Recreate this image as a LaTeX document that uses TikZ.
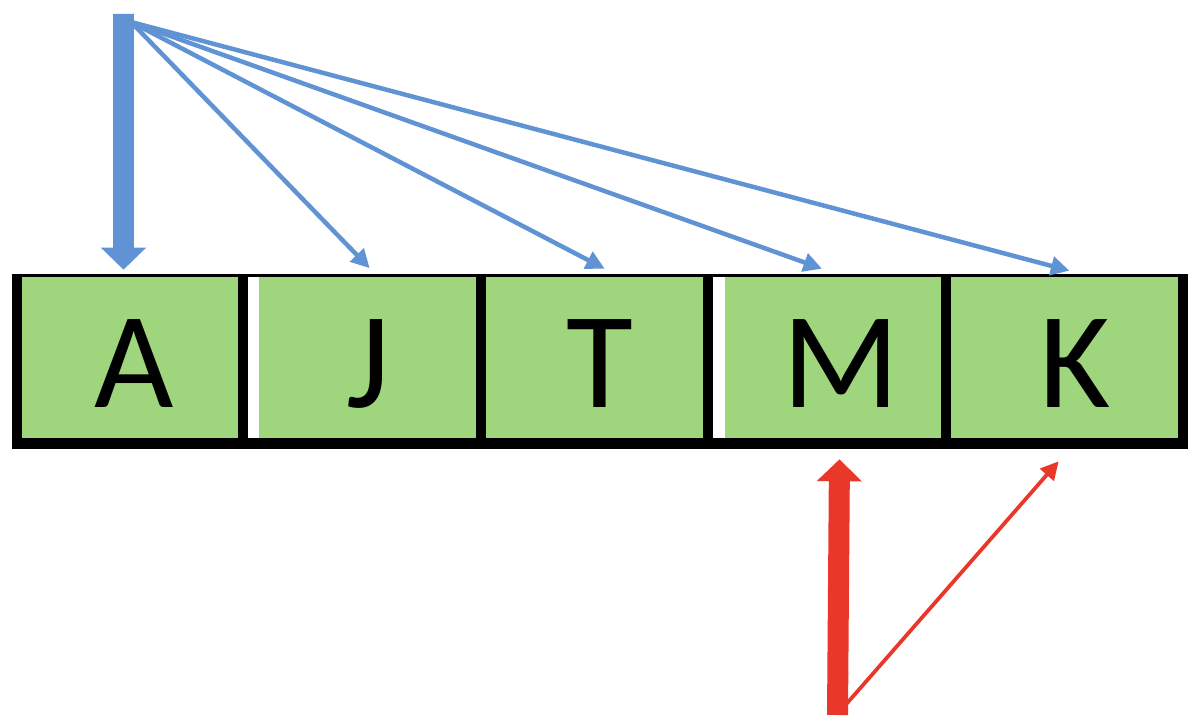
\documentclass[tikz,border=0pt]{standalone}
\usepackage{fontspec}
\setmainfont{Carlito}
\usetikzlibrary{arrows.meta,positioning}
\definecolor{cellgreen}{HTML}{9FD67D}
\definecolor{ptrblue}{HTML}{5F93D3}
\definecolor{ptrred}{HTML}{E9372A}

\begin{document}
\begin{tikzpicture}[x=0.02cm,y=-0.02cm,
    cell/.style={rectangle,fill=cellgreen,inner sep=0pt,minimum height=3.36cm},
    letter/.style={anchor=base,inner sep=0pt,font=\fontsize{78}{78}\selectfont},
    wall/.style={line width=0.2cm},
    blueptr/.style={draw=ptrblue,-{Triangle[length=0.37cm,width=0.37cm]},line width=0.09cm},
    bluefat/.style={draw=ptrblue,fill=ptrblue,-{Triangle[length=0.44cm,width=0.88cm]},line width=0.42cm},
    redptr/.style={draw=ptrred,-{Triangle[length=0.36cm,width=0.36cm]},line width=0.075cm},
    redfat/.style={draw=ptrred,fill=ptrred,-{Triangle[length=0.44cm,width=0.88cm]},line width=0.42cm}]

  \useasboundingbox (0,0) rectangle (1196,726);

  \node[cell,minimum width=4.52cm] (A) at (130,359.5) {};
  \node[cell,minimum width=4.74cm] (J) [right=0pt of A] {};
  \node[cell,minimum width=4.53cm] (T) [right=0pt of J] {};
  \node[cell,minimum width=4.74cm] (M) [right=0pt of T] {};
  \node[cell,minimum width=4.73cm] (K) [right=0pt of M] {};

  % white gaps
  \fill[white] (J.north west) rectangle ([xshift=0.32cm]J.south west);
  \fill[white] (M.north west) rectangle ([xshift=0.33cm]M.south west);

  % borders
  \draw[line width=0.06cm,shorten <=-0.1cm,shorten >=-0.1cm] (A.north west) -- (K.north east);
  \draw[line width=0.22cm,shorten <=-0.1cm,shorten >=-0.1cm] (A.south west) -- (K.south east);
  \foreach \c in {A,J,T,M,K}
    \draw[wall] (\c.north west) -- (\c.south west);
  \draw[wall] (K.north east) -- (K.south east);

  \node[letter] (lA) at ([shift={(4.5,-36.5)}]A.south) {A};
  \node[letter] (lJ) at ([shift={(6.5,-36.5)}]J.south) {J};
  \node[letter] (lT) at ([shift={(5,-36.5)}]T.south) {T};
  \node[letter] (lM) at ([shift={(14,-36.5)}]M.south) {M};
  \node[letter] (lK) at ([shift={(11,-36.5)}]K.south) {K};

  \coordinate (top) at (123.5,14);
  \coordinate (fan) at (131,22);
  \coordinate (foot) at (837.5,715);

  \path (fan) edge[blueptr] ([shift={(7.5,-7)}]J.north)
        (fan) edge[blueptr] ([shift={(10,-6.5)}]T.north)
        (fan) edge[blueptr] ([shift={(-5,-6.5)}]M.north)
        (fan) edge[blueptr] ([shift={(5,-4.5)}]K.north)
        (top) edge[bluefat] ([shift={(-6.5,-5.5)}]A.north);

  \path ([shift={(8,-10)}]foot) edge[redptr] ([shift={(-5.75,17.5)}]K.south)
        (foot) edge[redfat] ([shift={(12.5,15.5)}]M.south);

\end{tikzpicture}
\end{document}
